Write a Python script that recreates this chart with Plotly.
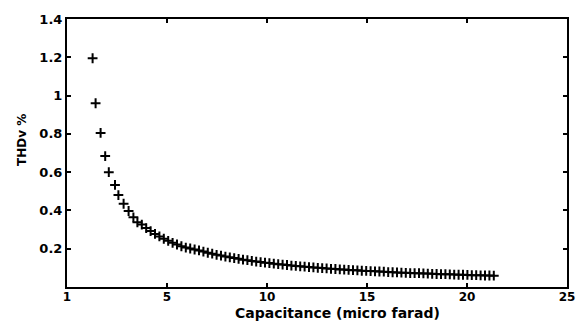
import plotly.graph_objects as go

# Capacitance (micro farad)
capacitance = [1.28, 1.43, 1.68, 1.91, 2.09, 2.40, 2.57, 2.83, 3.08, 3.32, 3.52,
               3.74, 3.96, 4.18, 4.40, 4.62, 4.84, 5.06, 5.28, 5.50, 5.72, 5.94,
               6.16, 6.38, 6.60, 6.82, 7.04, 7.26, 7.48, 7.70, 7.92, 8.14, 8.36, 8.58,
               8.80, 9.02, 9.24, 9.46, 9.68, 9.90, 10.12,
               10.34, 10.56, 10.78, 11.00, 11.22, 11.44, 11.66, 11.88, 12.10, 12.32,
               12.54, 12.76, 12.98, 13.20, 13.42, 13.64, 13.86, 14.08, 14.30, 14.52,
               14.74, 14.96, 15.18,
               15.40, 15.62, 15.84, 16.06, 16.28, 16.50, 16.72, 16.94, 17.16, 17.38,
               17.60, 17.82, 18.04, 18.26, 18.48, 18.70, 18.92, 19.14, 19.36, 19.58,
               19.80, 20.02, 20.24, 20.46, 20.68, 20.90, 21.12, 21.34]

# THDv %
thdv = [1.195, 0.960, 0.805, 0.684, 0.600, 0.533, 0.480, 0.435, 0.397, 0.364, 0.338,
        0.326, 0.308, 0.292, 0.277, 0.264, 0.252, 0.241, 0.231, 0.222, 0.213, 0.206,
        0.201, 0.196, 0.191, 0.185, 0.179, 0.174, 0.168, 0.164, 0.159, 0.155, 0.151, 0.147,
        0.143, 0.140, 0.136, 0.133, 0.130, 0.127, 0.125,
        0.122, 0.119, 0.117, 0.115, 0.112, 0.110, 0.108, 0.106, 0.104, 0.102,
        0.100, 0.099, 0.097, 0.095, 0.094, 0.092, 0.091, 0.089, 0.088, 0.087,
        0.085, 0.084, 0.083,
        0.082, 0.081, 0.080, 0.078, 0.077, 0.076, 0.075, 0.074, 0.073, 0.072,
        0.072, 0.071, 0.070, 0.069, 0.068, 0.067, 0.067, 0.066, 0.065, 0.064,
        0.064, 0.063, 0.062, 0.062, 0.061, 0.060, 0.060, 0.059]

x_tick_vals = [0, 5, 10, 15, 20, 25]
x_tick_text = ["1", "5", "10", "15", "20", "25"]
y_tick_vals = [0.2, 0.4, 0.6, 0.8, 1.0, 1.2, 1.4]
y_tick_text = ["0.2", "0.4", "0.6", "0.8", "1", "1.2", "1.4"]

x_title = "Capacitance (micro farad)"
y_title = "THDv %"

FONT = "DejaVu Sans"

fig = go.Figure()
fig.add_trace(go.Scatter(
    x=capacitance, y=thdv, mode="markers",
    marker=dict(symbol="cross-thin", size=7, line=dict(color="black", width=2)),
    showlegend=False,
))

axis_common = dict(
    showline=True, linecolor="black", linewidth=2, mirror="ticks",
    ticks="inside", ticklen=4, tickwidth=1.5, tickcolor="black",
    showgrid=False, zeroline=False,
)

fig.update_xaxes(range=[0, 25], tickvals=x_tick_vals, ticktext=x_tick_text,
                 tickfont=dict(family=FONT, size=12, color="black", weight="bold"),
                 ticklabelstandoff=-2, **axis_common)
fig.update_yaxes(range=[0, 1.4], tickvals=y_tick_vals, ticktext=y_tick_text,
                 tickfont=dict(family=FONT, size=13, color="black", weight="bold"),
                 **axis_common)

fig.add_annotation(text=x_title, xref="paper", yref="paper", x=0.54, y=-0.097,
                   xanchor="center", yanchor="middle", showarrow=False,
                   font=dict(family=FONT, size=14, color="black", weight="bold"))
fig.add_annotation(text=y_title, xref="paper", yref="paper", x=-0.089, y=0.547,
                   xanchor="center", yanchor="middle", showarrow=False, textangle=-90,
                   font=dict(family=FONT, size=12, color="black", weight="bold"))

fig.update_layout(
    width=587, height=322,
    margin=dict(l=67, r=14, t=13, b=35),
    paper_bgcolor="white", plot_bgcolor="white",
)

fig.write_html("out.html")
